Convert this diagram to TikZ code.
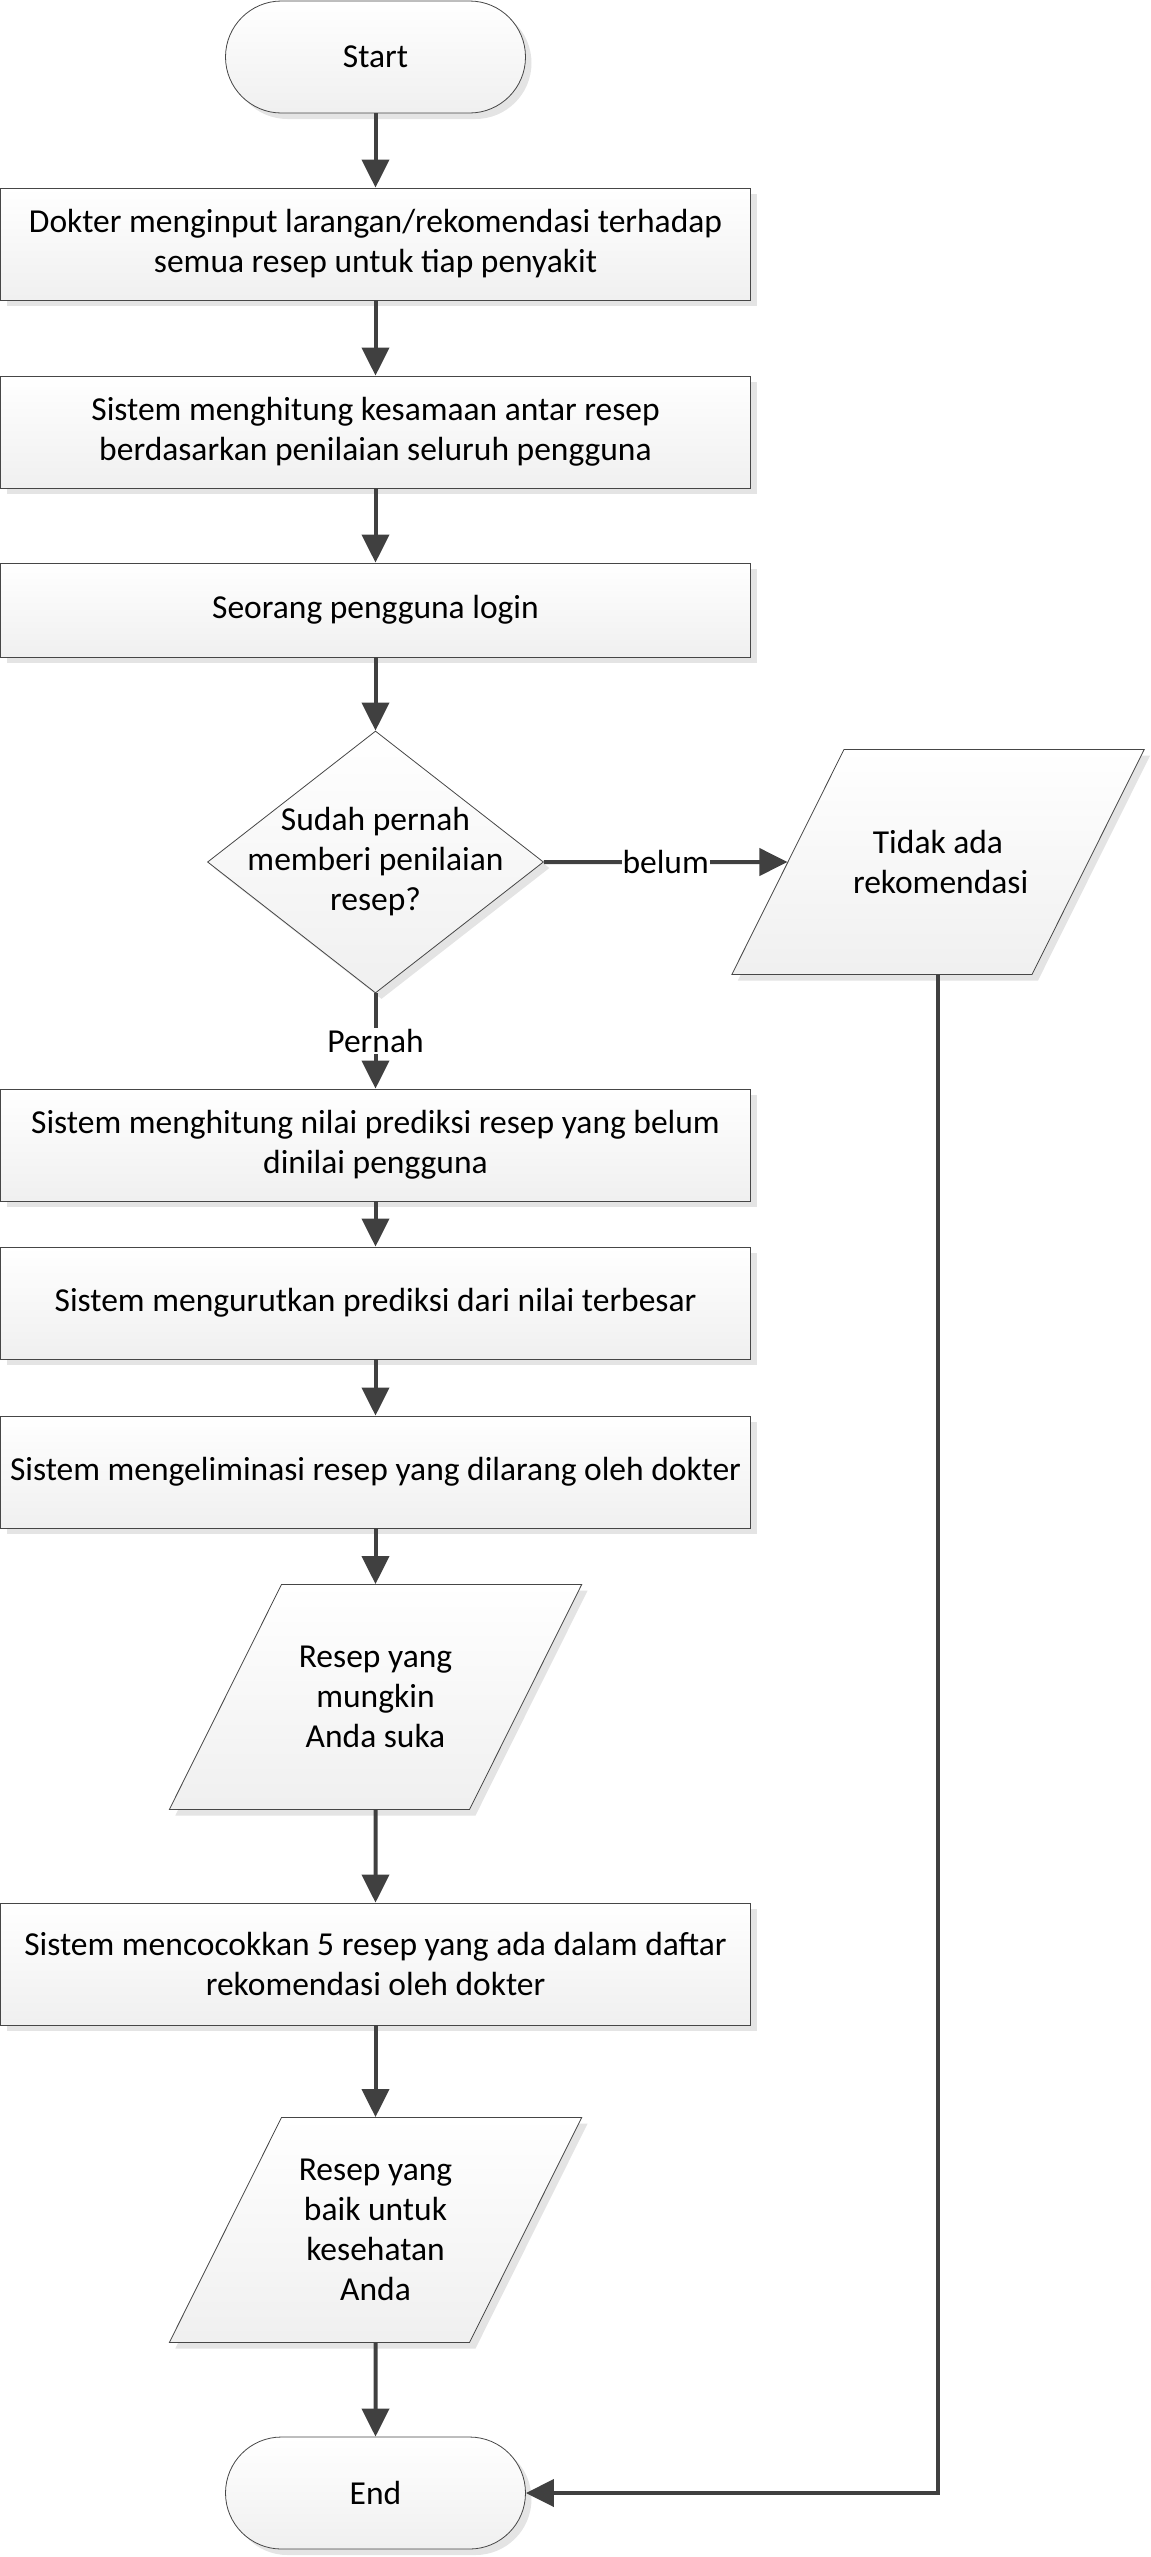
\documentclass[tikz,border=0pt]{standalone}
\usepackage{fontspec}
\setmainfont{Carlito}
\definecolor{lineGray}{RGB}{64,64,64}
\definecolor{edgeGray}{RGB}{70,70,70}
\definecolor{shadowGray}{RGB}{228,228,228}
\usepackage{tikz}
\usetikzlibrary{shapes,arrows.meta,shadows,positioning}
\newcommand{\iobody}[1]{\parbox[c][193pt][c]{170pt}{\centering #1}}

\begin{document}
\begin{tikzpicture}[x=1pt,y=1pt,
    font=\fontsize{33.5}{40}\selectfont,
    base/.style={draw=edgeGray,line width=0.8pt,top color=white,bottom color=black!6,
                 drop shadow={shadow xshift=6pt,shadow yshift=-6pt,fill=shadowGray,opacity=1},align=center},
    terminal/.style={base,rectangle,rounded corners=56pt,minimum width=300pt,minimum height=112pt},
    process/.style={base,rectangle,minimum width=750pt,minimum height=112pt,inner sep=2pt},
    decision/.style={base,diamond,minimum width=336pt,minimum height=262pt,inner sep=0pt},
    io/.style={base,trapezium,trapezium left angle=63.5,trapezium right angle=116.5,
               inner xsep=9pt,inner ysep=16pt},
    flow/.style={draw=lineGray,line width=4pt,-{Triangle[width=27pt,length=28pt]}},
    lbl/.style={fill=white,inner sep=1pt}
]
    \useasboundingbox (0,0) rectangle (1151,-2557);

    \node[terminal] (start) at (375.5,-57) {Start};
    \node[process] (dokter) at (375.5,-244) {Dokter menginput larangan/rekomendasi terhadap\\semua resep untuk tiap penyakit};
    \node[process] (kesamaan) at (375.5,-432) {Sistem menghitung kesamaan antar resep\\berdasarkan penilaian seluruh pengguna};
    \node[process,minimum height=94pt] (login) at (375.5,-610) {Seorang pengguna login};
    \node[decision,label={[align=center]center:Sudah pernah\\memberi penilaian\\resep?}] (cek) at (375.5,-862) {};
    \node[io] (tidak) at (938,-862) {\iobody{Tidak ada\\rekomendasi}};
    \node[process] (prediksi) at (375.5,-1145) {Sistem menghitung nilai prediksi resep yang belum\\dinilai pengguna};
    \node[process] (urut) at (375.5,-1303) {Sistem mengurutkan prediksi dari nilai terbesar};
    \node[process] (eliminasi) at (375.5,-1472) {Sistem mengeliminasi resep yang dilarang oleh dokter};
    \node[io] (suka) at (375.5,-1697) {\iobody{Resep yang\\mungkin\\Anda suka}};
    \node[process,minimum height=122pt] (cocok) at (375.5,-1964) {Sistem mencocokkan 5 resep yang ada dalam daftar\\rekomendasi oleh dokter};
    \node[io] (sehat) at (375.5,-2230) {\iobody{Resep yang\\baik untuk\\kesehatan\\Anda}};
    \node[terminal] (end) at (375.5,-2493) {End};

    \foreach \a/\b in {start/dokter,dokter/kesamaan,kesamaan/login,login/cek,
                       prediksi/urut,urut/eliminasi,eliminasi/suka,suka/cocok,cocok/sehat,sehat/end}
        \draw[flow] (\a) -- (\b);
    \draw[flow] (cek) -- node[lbl] {belum} (tidak);
    \draw[flow] (cek) -- node[lbl] {Pernah} (prediksi);
    \draw[flow] (tidak) |- (end);
\end{tikzpicture}
\end{document}
